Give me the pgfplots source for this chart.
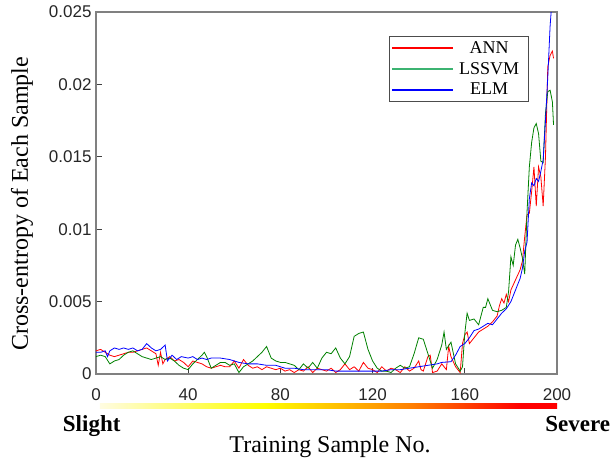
\documentclass[border=0pt]{standalone}
\usepackage{pgfplots}
\pgfplotsset{compat=1.18}
\usepackage{fontspec}
\setmainfont{Liberation Serif}
\setsansfont{Liberation Sans}
\definecolor{lsgreen}{RGB}{0,128,0}
\definecolor{lslegend}{RGB}{60,179,113}
\definecolor{axgray}{RGB}{128,128,128}
\definecolor{paleyellow}{RGB}{255,252,225}
\pgfdeclarehorizontalshading{severity}{100bp}{color(0bp)=(paleyellow); color(25bp)=(paleyellow); color(43bp)=(yellow); color(59bp)=(orange); color(71bp)=(red); color(75bp)=(red); color(100bp)=(red)}
\begin{document}
\begin{tikzpicture}
\useasboundingbox (-96pt,-85pt) rectangle (514pt,374pt);
\begin{axis}[
  at={(0pt,0pt)}, anchor=south west,
  scale only axis, width=461pt, height=362pt,
  xmin=0, xmax=200, ymin=0, ymax=0.025,
  xtick={0,40,80,120,160,200},
  xticklabels={0,40,80,120,160,200},
  ytick={0,0.005,0.01,0.015,0.02,0.025},
  yticklabels={0,0.005,0.01,0.015,0.02,0.025},
  xtick pos=left, ytick pos=left, tick align=inside,
  major tick length=6pt,
  tick style={black!75, line width=0.8pt},
  axis line style={axgray, line width=1.3pt},
  ticklabel style={font=\fontsize{17}{17}\sffamily, text=black!85},
  xticklabel style={anchor=base, yshift=-26pt},
  yticklabel style={anchor=east, xshift=-1pt},
  scaled y ticks=false,
  clip=true,
  ylabel={Cross-entropy of Each Sample},
  ylabel style={font=\fontsize{24}{24}\selectfont, at={(axis description cs:-0.1605,0.47)}, anchor=center},
  xlabel={Training Sample No.},
  xlabel style={font=\fontsize{24}{24}\selectfont, at={(axis description cs:0.5076,-0.2182)}, anchor=base},
  legend style={draw=black!70, line width=0.8pt, fill=white,
    font=\fontsize{18}{18}\selectfont,
    at={(0.6356,0.9337)}, anchor=north west,
    inner xsep=3pt, inner ysep=3pt, row sep=3.5pt},
  legend cell align=center,
]
% ANN
\addplot[red, line width=0.8pt,
  legend image code/.code={\fill[red] (0pt,-0.7pt) rectangle (60pt,0.7pt);}] coordinates {
(0,0.0016)(2,0.0017)(4,0.0015)(6,0.0013)(8,0.0012)(10,0.0013)(12,0.0014)(14,0.0015)(16,0.0015)(18,0.0016)
(20,0.0017)(22,0.0018)(24,0.0016)(26,0.0014)(27,0.0006)(28,0.0015)(29,0.0007)(30,0.0010)(32,0.0012)(34,0.0009)
(36,0.0010)(38,0.0008)(40,0.0005)(42,0.0009)(44,0.0008)(46,0.0007)(48,0.0005)(50,0.0004)(52,0.0005)(54,0.0006)
(56,0.0005)(58,0.0005)(60,0.0009)(62,0.0004)(64,0.0010)(66,0.0006)(68,0.0004)(70,0.0005)(72,0.0003)(74,0.0005)
(76,0.0004)(78,0.0003)(80,0.0004)(82,0.0002)(84,0.0003)(86,0.0001)(88,0.0003)(90,0.0002)(92,0.0005)(94,0.0001)
(96,0.0004)(98,0.0003)(100,0.0002)(102,0.0004)(104,0.0001)(106,0.0003)(108,0.0007)(110,0.0003)(112,0.0005)(114,0.0002)
(116,0.0008)(118,0.0004)(120,0.0003)(122,0.0001)(124,0.0005)(126,0.0002)(128,0.0004)(130,0.0003)(132,0.0001)(134,0.0005)
(136,0.0002)(138,0.0004)(140,0.0009)(141,0.0003)(142,0.0002)(144,0.0012)(145,0.0013)(146,0.0001)(148,0.0002)(150,0.0007)
(152,0.0003)(153,0.0019)(154,0.0012)(156,0.0005)(158,0.0001)(159,0.0021)(160,0.0027)(161,0.0029)(162,0.0021)(164,0.0025)
(166,0.0029)(168,0.0031)(170,0.0033)(172,0.0036)(174,0.0040)(175,0.0047)(176,0.0052)(177,0.0049)(178,0.0055)(179,0.0050)
(180,0.0058)(182,0.0065)(184,0.0072)(185,0.0078)(186,0.0095)(187,0.0110)(188,0.0111)(189,0.0126)(190,0.0143)(191,0.0116)
(192,0.0143)(193,0.0136)(194,0.0116)(195,0.0150)(196,0.0212)(197,0.0220)(198,0.0223)(198.5,0.0218)
};
\addlegendentry{\makebox[68pt]{ANN}}
% LSSVM
\addplot[lsgreen, line width=0.8pt,
  legend image code/.code={\fill[lslegend] (0pt,-0.7pt) rectangle (60pt,0.7pt);}] coordinates {
(0,0.0012)(2,0.0013)(4,0.0012)(6,0.0007)(8,0.0009)(10,0.0010)(12,0.0013)(14,0.0015)(16,0.0016)(18,0.0014)
(20,0.0012)(22,0.0011)(24,0.0010)(26,0.0011)(28,0.0012)(30,0.0010)(32,0.0011)(34,0.0009)(36,0.0006)(38,0.0004)
(40,0.0003)(42,0.0007)(44,0.0010)(46,0.0013)(47,0.0015)(48,0.0012)(50,0.0004)(52,0.0006)(54,0.0008)(56,0.0008)
(58,0.0006)(60,0.0007)(62,0.0001)(64,0.0005)(66,0.0007)(68,0.0009)(70,0.0012)(72,0.0015)(74,0.0019)(76,0.0011)
(78,0.0009)(80,0.0008)(82,0.0008)(84,0.0007)(86,0.0006)(88,0.0003)(90,0.0007)(92,0.0004)(94,0.0008)(96,0.0004)
(98,0.0011)(100,0.0015)(102,0.0014)(104,0.0018)(106,0.0011)(108,0.0007)(110,0.0012)(112,0.0026)(114,0.0028)(116,0.0029)
(118,0.0017)(120,0.0009)(122,0.0004)(124,0.0002)(126,0.0002)(128,0.0001)(130,0.0004)(132,0.0006)(134,0.0004)(136,0.0005)
(138,0.0014)(140,0.0025)(142,0.0024)(144,0.0014)(146,0.0004)(148,0.0010)(150,0.0020)(151,0.0029)(152,0.0017)(154,0.0022)
(156,0.0007)(158,0.0002)(159,0.0005)(160,0.0028)(161,0.0042)(162,0.0037)(164,0.0038)(166,0.0034)(167,0.0040)(168,0.0046)
(169,0.0046)(170,0.0052)(172,0.0044)(174,0.0043)(176,0.0044)(178,0.0046)(179,0.0057)(180,0.0081)(181,0.0075)(182,0.0089)
(183,0.0093)(184,0.0087)(185,0.0080)(186,0.0069)(187,0.0112)(188,0.0143)(189,0.0160)(190,0.0170)(191,0.0173)(192,0.0166)
(193,0.0147)(194,0.0146)(195,0.0180)(196,0.0195)(197,0.0196)(198,0.0188)(198.5,0.0172)
};
\addlegendentry{\makebox[68pt]{LSSVM}}
% ELM
\addplot[blue, line width=0.8pt,
  legend image code/.code={\fill[blue] (0pt,-0.7pt) rectangle (60pt,0.7pt);}] coordinates {
(0,0.0015)(2,0.0015)(4,0.0016)(5,0.0012)(6,0.0016)(8,0.0018)(10,0.0017)(12,0.0018)(14,0.0017)(16,0.0018)
(18,0.0016)(20,0.0017)(22,0.0021)(24,0.0018)(26,0.0016)(28,0.0017)(30,0.0020)(31,0.0009)(33,0.0013)(35,0.0010)
(37,0.0012)(40,0.0011)(42,0.0012)(44,0.0010)(46,0.0011)(48,0.0010)(50,0.0011)(54,0.0011)(58,0.0010)(62,0.0008)
(66,0.0007)(70,0.0007)(74,0.0006)(78,0.0006)(82,0.0004)(86,0.0004)(90,0.0003)(94,0.0003)(98,0.0003)(100,0.0003)
(104,0.0002)(108,0.0002)(112,0.0002)(116,0.0002)(120,0.0002)(124,0.0002)(128,0.0003)(132,0.0003)(136,0.0004)(140,0.0005)
(144,0.0006)(148,0.0007)(150,0.0008)(154,0.00085)(156,0.0013)(158,0.0019)(160,0.0021)(162,0.0025)(164,0.0030)(166,0.0031)
(168,0.0033)(170,0.0035)(172,0.0034)(174,0.0038)(176,0.0042)(178,0.0045)(180,0.0050)(182,0.0058)(184,0.0066)(185,0.0073)
(186,0.0085)(187,0.0091)(188,0.0121)(189,0.0132)(190,0.0130)(191,0.0135)(192,0.0133)(193,0.0140)(194,0.0148)(195,0.0175)
(196,0.0205)(197,0.0240)(198,0.0262)
};
\addlegendentry{\makebox[68pt]{ELM}}
\end{axis}
\shade[shading=severity] (4pt,-34.3pt) rectangle (461pt,-29.3pt);
\node[anchor=base, font=\fontsize{23}{23}\selectfont\bfseries, inner sep=0pt] at (-4.3pt,-57pt) {Slight};
\node[anchor=base, font=\fontsize{23}{23}\selectfont\bfseries, inner sep=0pt] at (481.8pt,-57pt) {Severe};
\end{tikzpicture}
\end{document}
